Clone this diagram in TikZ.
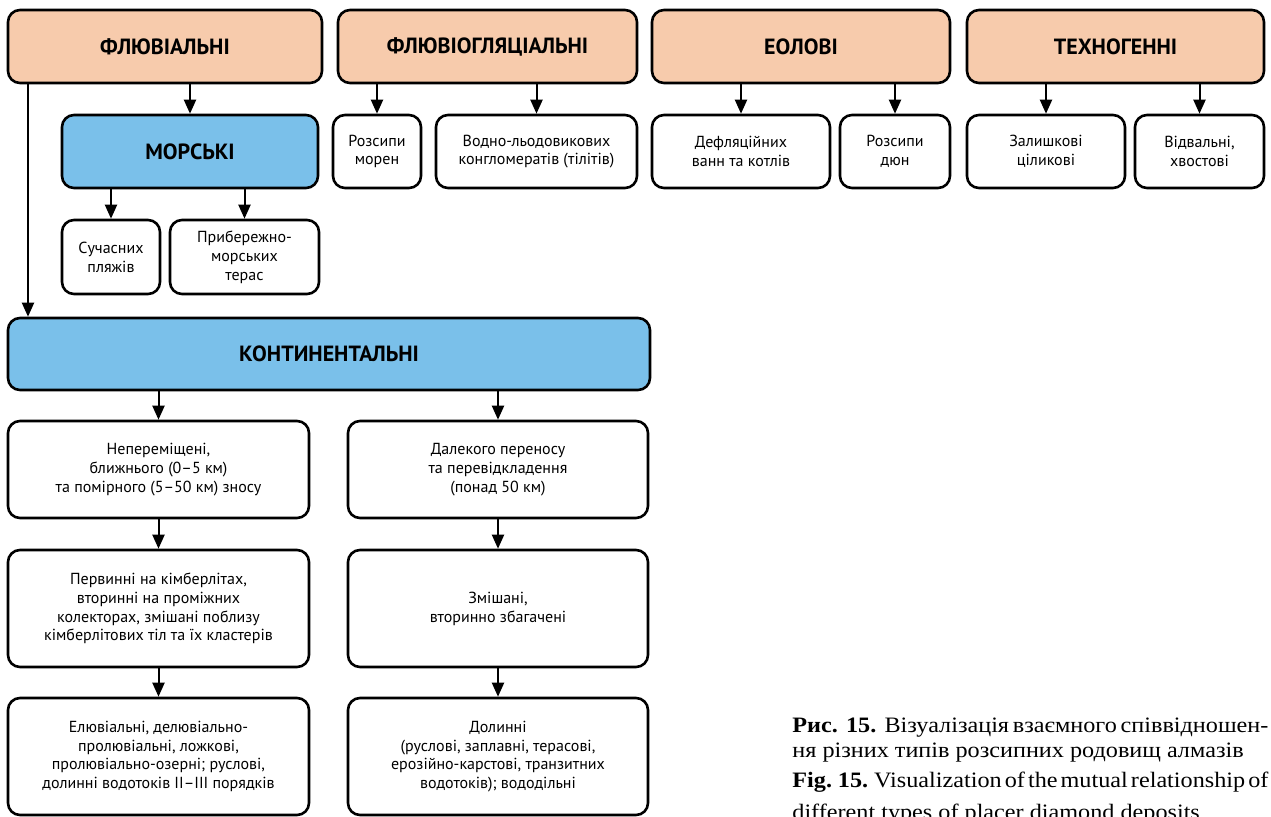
\documentclass[tikz,border=0pt]{standalone}
\usepackage{fontspec}
\setmainfont[FakeStretch=1.10]{Liberation Serif}
\setsansfont{PT Sans}
\usetikzlibrary{arrows.meta}
\definecolor{peach}{RGB}{247,203,172}
\definecolor{skyblue}{RGB}{122,192,234}
\newcommand\fullline[1]{{\spaceskip=0.12em plus 1fil\makebox[238pt][s]{#1}}}
\tikzset{
  base box/.style={
    draw,
    line width=1.3pt,
    rounded corners=6pt,
    align=center,
    inner sep=0pt,
    font=\sffamily\fontsize{8}{9.4}\selectfont,
  },
  head box/.style={base box, fill=peach, font=\sffamily\bfseries\fontsize{11}{13}\selectfont},
  group box/.style={base box, fill=skyblue, font=\sffamily\bfseries\fontsize{11}{13}\selectfont},
  leaf box/.style={base box, fill=white},
  down arrow/.style={-{Triangle[width=6pt,length=7pt]}, line width=1pt},
  caption line/.style={anchor=base west, inner sep=0pt, font=\fontsize{11}{13}\selectfont},
}

\begin{document}
\begin{tikzpicture}[x=0.5pt, y=-0.5pt]
        \clip (0,0) rectangle (1271,816);
        % top level
        \node[head box, minimum width=157pt,   minimum height=36.5pt] (fluv)   at (165,46.5)    {ФЛЮВІАЛЬНІ};
        \node[head box, minimum width=149.5pt, minimum height=36.5pt] (fluvgl) at (487.5,46.5)  {ФЛЮВІОГЛЯЦІАЛЬНІ};
        \node[head box, minimum width=149pt,   minimum height=36.5pt] (eol)    at (801,46.5)    {ЕОЛОВІ};
        \node[head box, minimum width=148.5pt, minimum height=36.5pt] (tech)   at (1115.5,46.5) {ТЕХНОГЕННІ};
        
        % second level
        \node[group box, minimum width=128pt,  minimum height=36.5pt] (mors)  at (190,151.5)    {МОРСЬКІ};
        \node[leaf box, minimum width=44pt,    minimum height=36.5pt] (moren) at (377,151.5)    {Розсипи\\морен};
        \node[leaf box, minimum width=100.5pt, minimum height=36.5pt] (vodno) at (536.5,151.5)  {Водно-льодовикових\\конгломератів (тілітів)};
        \node[leaf box, minimum width=89pt,    minimum height=36.5pt] (defl)  at (741,151.5)    {Дефляційних\\ванн та котлів};
        \node[leaf box, minimum width=55pt,    minimum height=36.5pt] (dun)   at (895,151.5)    {Розсипи\\дюн};
        \node[leaf box, minimum width=79pt,    minimum height=36.5pt] (zal)   at (1046,151.5)   {Залишкові\\ціликові};
        \node[leaf box, minimum width=64.5pt,  minimum height=36.5pt] (vidv)  at (1199.5,151.5)  {Відвальні,\\хвостові};
        
        \node[leaf box, minimum width=49pt,   minimum height=37pt] (sucha) at (111,257)   {Сучасних\\пляжів};
        \node[leaf box, minimum width=74.5pt, minimum height=37pt] (prib)  at (244.5,257) {Прибережно-\\морських\\терас};
        
        % continental branch
        \node[group box, minimum width=321pt, minimum height=36pt] (kont) at (329,354) {КОНТИНЕНТАЛЬНІ};
        
        \node[leaf box, minimum width=150.5pt, minimum height=48.5pt] (left1)  at (158.5,469.5) {Непереміщені,\\ближнього (0–5 км)\\та помірного (5–50 км) зносу};
        \node[leaf box, minimum width=150.5pt, minimum height=58.5pt] (left2)  at (158.5,608.5) {Первинні на кімберлітах,\\вторинні на проміжних\\колекторах, змішані поблизу\\кімберлітових тіл та їх кластерів};
        \node[leaf box, minimum width=150.5pt, minimum height=58.5pt] (left3)  at (158.5,756.5) {Елювіальні, делювіально-\\пролювіальні, ложкові,\\пролювіально-озерні; руслові,\\долинні водотоків II–III порядків};
        \node[leaf box, minimum width=150pt,   minimum height=48.5pt] (right1) at (498,469.5)   {Далекого переносу\\та перевідкладення\\(понад 50 км)};
        \node[leaf box, minimum width=150pt,   minimum height=58.5pt] (right2) at (498,608.5)   {Змішані,\\вторинно збагачені};
        \node[leaf box, minimum width=150pt,   minimum height=58.5pt] (right3) at (498,756.5)   {Долинні\\(руслові, заплавні, терасові,\\ерозійно-карстові, транзитних\\водотоків); вододільні};
        
        \coordinate (trunk) at (28,0);
        
        \draw[down arrow] (fluv.south -| mors.north)    to (mors.north);
        \draw[down arrow] (fluvgl.south -| moren.north) to (moren.north);
        \draw[down arrow] (fluvgl.south -| vodno.north) to (vodno.north);
        \draw[down arrow] (eol.south -| defl.north)     to (defl.north);
        \draw[down arrow] (eol.south -| dun.north)      to (dun.north);
        \draw[down arrow] (tech.south -| zal.north)     to (zal.north);
        \draw[down arrow] (tech.south -| vidv.north)    to (vidv.north);
        \draw[down arrow] (mors.south -| sucha.north)   to (sucha.north);
        \draw[down arrow] (mors.south -| prib.north)    to (prib.north);
        \draw[down arrow] (trunk |- fluv.south)         to (trunk |- kont.north);
        
        \draw[down arrow] (kont.south -| left1.north)   to (left1.north);
        \draw[down arrow] (kont.south -| right1.north)  to (right1.north);
        \draw[down arrow] (left1.south)  to (left2.north);
        \draw[down arrow] (left2.south)  to (left3.north);
        \draw[down arrow] (right1.south) to (right2.north);
        \draw[down arrow] (right2.south) to (right3.north);
        
        % caption
        \node[caption line] (cap1) at (792,732) {\fullline{\textbf{Рис. 15.} Візуалізація взаємного співвідношен-}};
        \node[caption line] (cap2) at (792,757) {ня різних типів розсипних родовищ алмазів};
        \node[caption line] (cap3) at (792,787) {\fullline{\textbf{Fig. 15.} Visualization of the mutual relationship of}};
        \node[caption line] (cap4) at (792,819) {different types of placer diamond deposits};
\end{tikzpicture}
\end{document}
